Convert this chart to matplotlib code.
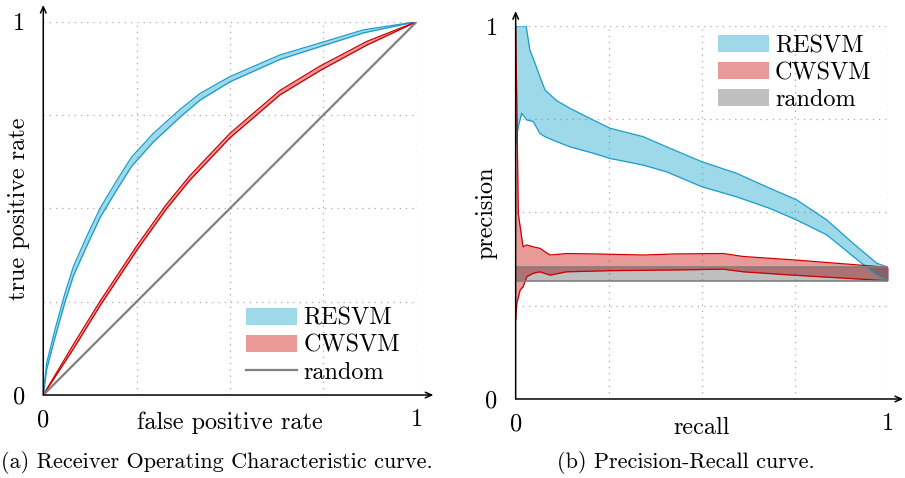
import numpy as np
import matplotlib.pyplot as plt
from matplotlib.patches import Patch
from matplotlib.lines import Line2D

plt.rcParams['font.family'] = 'cmr10'
plt.rcParams['axes.unicode_minus'] = False
plt.rcParams['mathtext.fontset'] = 'cm'

FS = 17.5
CAP_FS = 16.0

# ROC curves (false positive rate -> true positive rate)
roc_resvm_x = [0, 0.009, 0.031, 0.058, 0.081, 0.116, 0.152, 0.197, 0.237, 0.295, 0.366, 0.42,
               0.5, 0.634, 0.741, 0.857, 1.0]
roc_resvm_hi = [0, 0.085, 0.174, 0.272, 0.345, 0.424, 0.50, 0.575, 0.638, 0.701, 0.765, 0.808,
                0.853, 0.911, 0.943, 0.978, 1.0]
roc_resvm_lo = [0, 0.068, 0.152, 0.248, 0.32, 0.398, 0.475, 0.55, 0.613, 0.678, 0.744, 0.790,
                0.839, 0.899, 0.933, 0.970, 1.0]

roc_cwsvm_x = [0, 0.081, 0.152, 0.25, 0.33, 0.393, 0.5, 0.634, 0.741, 0.866, 1.0]
roc_cwsvm_hi = [0, 0.136, 0.251, 0.399, 0.511, 0.588, 0.701, 0.816, 0.881, 0.947, 1.0]
roc_cwsvm_lo = [0, 0.124, 0.239, 0.387, 0.499, 0.576, 0.689, 0.804, 0.869, 0.937, 1.0]

# PR curves (recall -> precision)
pr_resvm_x_hi = [0, 0.028, 0.038, 0.052, 0.065, 0.079, 0.11, 0.146, 0.208, 0.253, 0.343, 0.405,
                 0.5, 0.593, 0.682, 0.754, 0.835, 0.906, 0.969, 1.0]
pr_resvm_hi = [1.0, 1.0, 0.936, 0.90, 0.864, 0.828, 0.80, 0.779, 0.748, 0.726, 0.703, 0.676,
               0.636, 0.605, 0.565, 0.534, 0.48, 0.417, 0.364, 0.353]
pr_resvm_x_lo = [0, 0.007, 0.016, 0.03, 0.047, 0.065, 0.079, 0.11, 0.146, 0.208, 0.253, 0.343,
                 0.405, 0.5, 0.593, 0.682, 0.754, 0.835, 0.906, 0.969, 1.0]
pr_resvm_lo = [0.685, 0.73, 0.766, 0.748, 0.744, 0.712, 0.703, 0.69, 0.676, 0.659, 0.645, 0.627,
               0.609, 0.569, 0.542, 0.511, 0.48, 0.44, 0.382, 0.332, 0.317]

pr_cwsvm_x_hi = [0, 0.003, 0.007, 0.012, 0.02, 0.03, 0.047, 0.065, 0.092, 0.137, 0.208, 0.343,
                 0.432, 0.557, 0.611, 0.745, 1.0]
pr_cwsvm_hi = [1.0, 0.80, 0.498, 0.462, 0.408, 0.413, 0.408, 0.404, 0.386, 0.39, 0.389, 0.386,
               0.389, 0.39, 0.382, 0.373, 0.353]
pr_cwsvm_x_lo = [0, 0.003, 0.012, 0.02, 0.03, 0.047, 0.065, 0.092, 0.137, 0.253, 0.432, 0.557,
                 0.611, 0.745, 1.0]
pr_cwsvm_lo = [0.212, 0.256, 0.292, 0.301, 0.328, 0.337, 0.341, 0.332, 0.341, 0.344, 0.346,
               0.348, 0.341, 0.332, 0.317]

pr_random = [0.317, 0.353]

blue_line, blue_fill = '#1a9bcc', '#0aa0c8'
red_line, red_fill = '#cc0000', '#cc0000'
gray_line = '#808080'


def band(ax, x_hi, hi, x_lo, lo, lc, fc):
    grid = np.union1d(x_hi, x_lo)
    ax.fill_between(grid, np.interp(grid, x_lo, lo), np.interp(grid, x_hi, hi),
                    color=fc, alpha=0.4, lw=0)
    ax.plot(x_hi, hi, color=lc, lw=0.9)
    ax.plot(x_lo, lo, color=lc, lw=0.9)


def style(ax, xlab, ylab, ext, xl, yl):
    ax.set_xlim(0, 1)
    ax.set_ylim(0, 1)
    for s in ax.spines.values():
        s.set_visible(False)
    for v in [0.25, 0.5, 0.75, 1.0]:
        ax.plot([v, v], [0, 1], ls=(0, (1, 4)), color='#aaaaaa', lw=0.9, zorder=0)
        ax.plot([0, 1], [v, v], ls=(0, (1, 4)), color='#aaaaaa', lw=0.9, zorder=0)
    ax.set_xticks([0, 1])
    ax.set_yticks([0, 1])
    ax.set_xticklabels(['0', '1'], fontsize=FS)
    ax.set_yticklabels(['0', '1'], fontsize=FS)
    ax.tick_params(length=0, pad=10)
    ax.tick_params(axis='y', pad=13)
    ap = dict(arrowstyle='->,head_length=0.45,head_width=0.2', color='black', lw=1.1,
              shrinkA=0, shrinkB=0)
    ax.annotate('', xy=(ext, 0), xytext=(0, 0), arrowprops=ap, annotation_clip=False)
    ax.annotate('', xy=(0, ext), xytext=(0, 0), arrowprops=ap, annotation_clip=False)
    ax.set_xlabel(xlab, fontsize=FS)
    ax.set_ylabel(ylab, fontsize=FS)
    ax.xaxis.set_label_coords(0.5, xl)
    ax.yaxis.set_label_coords(yl, 0.5)


fig = plt.figure(figsize=(9.05, 4.78), dpi=100)
ax1 = fig.add_axes([0.0478, 0.1736, 0.4126, 0.781])
ax2 = fig.add_axes([0.5698, 0.1653, 0.4117, 0.7803])

# (a) ROC
band(ax1, roc_resvm_x, roc_resvm_hi, roc_resvm_x, roc_resvm_lo, blue_line, blue_fill)
band(ax1, roc_cwsvm_x, roc_cwsvm_hi, roc_cwsvm_x, roc_cwsvm_lo, red_line, red_fill)
ax1.plot([0, 1], [0, 1], color=gray_line, lw=1.6)
style(ax1, 'false positive rate', 'true positive rate', 1.045, -0.045, -0.036)
h1 = [Patch(facecolor=blue_fill, alpha=0.4, lw=0), Patch(facecolor=red_fill, alpha=0.4, lw=0),
      Line2D([], [], color=gray_line, lw=1.6)]
ax1.legend(h1, ['RESVM', 'CWSVM', 'random'], loc='lower left', bbox_to_anchor=(0.543, 0.03),
           frameon=False, fontsize=FS, handlelength=2.1, handletextpad=0.25,
           labelspacing=0.2, borderpad=0, borderaxespad=0)

# (b) PR
band(ax2, pr_resvm_x_hi, pr_resvm_hi, pr_resvm_x_lo, pr_resvm_lo, blue_line, blue_fill)
band(ax2, pr_cwsvm_x_hi, pr_cwsvm_hi, pr_cwsvm_x_lo, pr_cwsvm_lo, red_line, red_fill)
ax2.fill_between([0, 1], pr_random[0], pr_random[1], color='black', alpha=0.25, lw=0)
ax2.plot([0, 1], [pr_random[0]] * 2, color=gray_line, lw=1.2)
ax2.plot([0, 1], [pr_random[1]] * 2, color=gray_line, lw=1.2)
style(ax2, 'recall', 'precision', 1.04, -0.047, -0.05)
h2 = [Patch(facecolor=blue_fill, alpha=0.4, lw=0), Patch(facecolor=red_fill, alpha=0.4, lw=0),
      Patch(facecolor='black', alpha=0.25, lw=0)]
ax2.legend(h2, ['RESVM', 'CWSVM', 'random'], loc='upper left', bbox_to_anchor=(0.543, 0.976),
           frameon=False, fontsize=FS, handlelength=2.1, handletextpad=0.25,
           labelspacing=0.2, borderpad=0, borderaxespad=0)

fig.text(1 / 905, 1 - 463 / 478, '(a) Receiver Operating Characteristic curve.',
         fontsize=CAP_FS, ha='left', va='center')
fig.text(686 / 905, 1 - 463 / 478, '(b) Precision-Recall curve.',
         fontsize=CAP_FS, ha='center', va='center')

fig.savefig('out.png', dpi=100)
